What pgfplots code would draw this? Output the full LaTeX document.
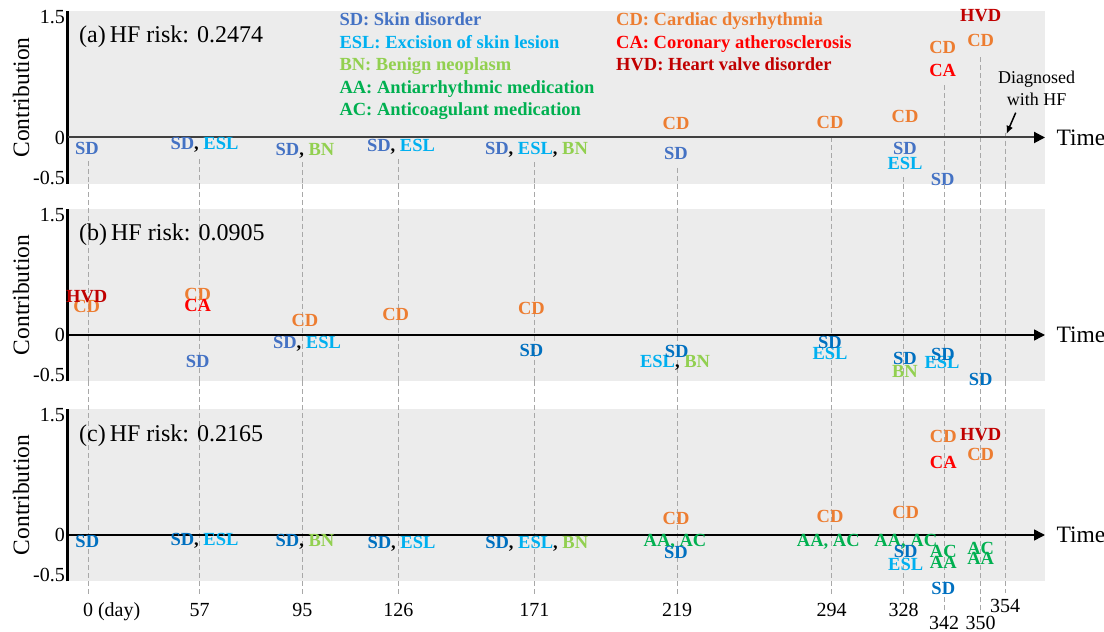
\documentclass[border=0pt]{standalone}
\usepackage{fontspec}
\setmainfont{Liberation Serif}
\usepackage{pgfplots}
\pgfplotsset{compat=1.18}
\usetikzlibrary{arrows.meta}

\definecolor{bg}{RGB}{236,236,236}
\definecolor{sda}{RGB}{68,114,196}
\definecolor{sdb}{RGB}{0,112,192}
\definecolor{esl}{RGB}{0,176,240}
\definecolor{bn}{RGB}{146,208,80}
\definecolor{aac}{RGB}{0,176,80}
\definecolor{cd}{RGB}{237,125,49}
\definecolor{ca}{RGB}{255,0,0}
\definecolor{hvd}{RGB}{192,0,0}
\definecolor{dashc}{RGB}{168,168,168}
\definecolor{darkline}{RGB}{64,64,64}

\newcommand\lbl{\fontsize{18.5}{20}\selectfont\bfseries}
\newcommand\tk{\fontsize{20}{22}\selectfont}
\newcommand\bigf{\fontsize{23.5}{25}\selectfont}
\protected\def\SDa{\textcolor{sda}{SD}}
\protected\def\SDb{\textcolor{sdb}{SD}}
\protected\def\ESL{\textcolor{esl}{ESL}}
\protected\def\BN{\textcolor{bn}{BN}}
\protected\def\LAA{\textcolor{aac}{AA}}
\protected\def\LAC{\textcolor{aac}{AC}}
\protected\def\LAAC{\textcolor{aac}{AA, AC}}
\protected\def\CD{\textcolor{cd}{CD}}
\protected\def\CA{\textcolor{ca}{CA}}
\protected\def\HVD{\textcolor{hvd}{HVD}}

\tikzset{dline/.style={draw=dashc, line width=0.9pt, dash pattern=on 5pt off 3pt}}
\pgfplotsset{
  panel/.style={
    x=1pt, y=80pt,
    xmin=68, xmax=1045, ymin=-0.58, ymax=1.58,
    axis background/.style={fill=bg, draw=none},
    axis y line*=left,
    axis x line*=bottom,
    x axis line style={draw=none},
    y axis line style={-, line width=3pt, draw=black},
    ytick={-0.5,0,1.5},
    yticklabels={-0.5,0,1.5},
    major tick length=0pt,
    ytick style={draw=none},
    xtick style={draw=none},
    yticklabel style={font=\tk, inner sep=3pt},
    xtick=\empty,
    clip=false,
    anchor=south west,
  },
  lblplot/.style={draw=none, mark=none, nodes near coords,
    point meta=explicit symbolic,
    every node near coord/.append style={anchor=base, yshift=-6pt, font=\lbl, text=black, inner sep=0pt}},
}

\begin{document}
\begin{tikzpicture}
\useasboundingbox (0,0) rectangle (1104pt,632pt);

% ---------------- panel (a)
\begin{axis}[panel, at={(68pt,448.1pt)}]
  \draw[dline] (axis cs:88,-0.30) -- (axis cs:88,-0.58);
  \draw[dline] (axis cs:199.7,-0.27) -- (axis cs:199.7,-0.58);
  \draw[dline] (axis cs:302.3,-0.31) -- (axis cs:302.3,-0.58);
  \draw[dline] (axis cs:398.3,-0.27) -- (axis cs:398.3,-0.58);
  \draw[dline] (axis cs:534.3,-0.31) -- (axis cs:534.3,-0.58);
  \draw[dline] (axis cs:677,-0.38) -- (axis cs:677,-0.58);
  \draw[dline] (axis cs:831.5,0) -- (axis cs:831.5,-0.58);
  \draw[dline] (axis cs:903.5,-0.50) -- (axis cs:903.5,-0.58);
  \draw[dline] (axis cs:944,0.65) -- (axis cs:944,-0.58);
  \draw[dline] (axis cs:980.7,1.0) -- (axis cs:980.7,-0.58);
  \draw[dline] (axis cs:1005,0.06) -- (axis cs:1005,-0.58);
  \draw[draw=darkline, line width=2pt, -{Triangle[length=11pt,width=11pt,black]}] (axis cs:68,0) -- (axis cs:1045,0);
  \addplot[lblplot] coordinates {
    (87,-0.135) [\SDa]
    (204.5,-0.08) [{\SDa, \ESL}]
    (305,-0.145) [{\SDa, \BN}]
    (401,-0.095) [{\SDa, \ESL}]
    (536.5,-0.135) [{\SDa, \ESL, \BN}]
    (676,0.17) [\CD]
    (676,-0.20) [\SDa]
    (830,0.19) [\CD]
    (905,0.26) [\CD]
    (905,-0.135) [\SDa]
    (905,-0.32) [\ESL]
    (942.7,1.12) [\CD]
    (942.7,0.84) [\CA]
    (942.7,-0.52) [\SDa]
    (980.7,1.52) [\HVD]
    (980.7,1.21) [\CD]
  };
  \node[rotate=90, font=\bigf] at (axis cs:21,0.5) {Contribution};
  \node[anchor=west, font=\bigf] at (axis cs:1053,0) {Time};
  \node[anchor=base west, font=\fontsize{24}{25}\selectfont, inner sep=0pt] at (axis cs:79,1.19) {(a)\,HF risk: 0.2474};
  \node[anchor=base west, font=\lbl, text=sda, inner sep=0pt] at (axis cs:339.3,1.394) {SD: Skin disorder};
  \node[anchor=base west, font=\lbl, text=esl, inner sep=0pt] at (axis cs:339.3,1.115) {ESL: Excision of skin lesion};
  \node[anchor=base west, font=\lbl, text=bn, inner sep=0pt] at (axis cs:339.3,0.84) {BN: Benign neoplasm};
  \node[anchor=base west, font=\lbl, text=aac, inner sep=0pt] at (axis cs:339.3,0.5525) {AA: Antiarrhythmic medication};
  \node[anchor=base west, font=\lbl, text=aac, inner sep=0pt] at (axis cs:339.3,0.269) {AC: Anticoagulant medication};
  \node[anchor=base west, font=\lbl, text=cd, inner sep=0pt] at (axis cs:616,1.394) {CD: Cardiac dysrhythmia};
  \node[anchor=base west, font=\lbl, text=ca, inner sep=0pt] at (axis cs:616,1.115) {CA: Coronary atherosclerosis};
  \node[anchor=base west, font=\lbl, text=hvd, inner sep=0pt] at (axis cs:616,0.84) {HVD: Heart valve disorder};
  \node[align=center, font=\fontsize{18}{22}\selectfont, inner sep=0pt] at (axis cs:1036.7,0.62) {Diagnosed\\with HF};
  \draw[line width=1.5pt, -{Latex[length=8pt,width=7pt]}] (axis cs:1015.7,0.31) -- (axis cs:1006.5,0.045);
\end{axis}

% ---------------- panel (b)
\begin{axis}[panel, at={(68pt,250.6pt)}]
  \pgfplotsinvokeforeach{88,199.7,302.3,398.3,534.3,677,831.5,903.5,944,980.7,1005}{
    \draw[dline] (axis cs:#1,1.889) -- (axis cs:#1,-0.58);
  }
  \draw[draw=black, line width=1.5pt, -{Triangle[length=11pt,width=11pt,black]}] (axis cs:68,0) -- (axis cs:1045,0);
  \addplot[lblplot] coordinates {
    (86.7,0.35) [\CD]
    (86.7,0.48) [\HVD]
    (197.7,0.51) [\CD]
    (197.7,0.37) [\CA]
    (197.7,-0.33) [\SDa]
    (305,0.18) [\CD]
    (307,-0.10) [{\SDa, \ESL}]
    (395.7,0.25) [\CD]
    (531.4,0.33) [\CD]
    (531.4,-0.20) [\SDb]
    (675,-0.33) [{\ESL, \BN}]
    (676.7,-0.21) [\SDb]
    (830,-0.23) [\ESL]
    (830,-0.10) [\SDb]
    (905,-0.46) [\BN]
    (905,-0.29) [\SDb]
    (942,-0.35) [\ESL]
    (943,-0.24) [\SDb]
    (980.6,-0.56) [\SDb]
  };
  \node[rotate=90, font=\bigf] at (axis cs:21,0.5) {Contribution};
  \node[anchor=west, font=\bigf] at (axis cs:1053,0) {Time};
  \node[anchor=base west, font=\fontsize{24}{25}\selectfont, inner sep=0pt] at (axis cs:79,1.185) {(b)\,HF risk: 0.0905};
\end{axis}

% ---------------- panel (c)
\begin{axis}[panel, at={(68pt,50.6pt)},
  xtick={88,199.7,302.3,398.3,534.3,677,831.5,903.5,944,980.7,1005},
  xticklabels={{\makebox[0pt][l]{\kern-5pt 0 (day)}},57,95,126,171,219,294,328,{\raisebox{-13pt}{342}},{\raisebox{-13pt}{350}},{\raisebox{4pt}{354}}},
  xticklabel style={anchor=base, yshift=-35pt, font=\tk},
]
  \pgfplotsinvokeforeach{88,199.7,302.3,398.3,534.3,677,831.5,903.5}{
    \draw[dline] (axis cs:#1,1.92) -- (axis cs:#1,-0.775);
  }
  \pgfplotsinvokeforeach{944,980.7}{
    \draw[dline] (axis cs:#1,1.92) -- (axis cs:#1,-0.96);
  }
  \draw[dline] (axis cs:1005,1.92) -- (axis cs:1005,-0.725);
  \draw[draw=black, line width=1.5pt, -{Triangle[length=11pt,width=11pt,black]}] (axis cs:68,0) -- (axis cs:1045,0);
  \addplot[lblplot] coordinates {
    (87.3,-0.08) [\SDb]
    (204.5,-0.06) [{\SDb, \ESL}]
    (305,-0.07) [{\SDb, \BN}]
    (401.5,-0.10) [{\SDb, \ESL}]
    (536.7,-0.10) [{\SDb, \ESL, \BN}]
    (676,0.21) [\CD]
    (675,-0.075) [\LAAC]
    (676,-0.22) [\SDb]
    (830,0.23) [\CD]
    (828.3,-0.07) [\LAAC]
    (905.7,0.28) [\CD]
    (905.8,-0.07) [\LAAC]
    (905.7,-0.21) [\SDb]
    (905.7,-0.375) [\ESL]
    (943.3,1.23) [\CD]
    (943.3,0.90) [\CA]
    (943.3,-0.21) [\LAC]
    (943.3,-0.35) [\LAA]
    (943.3,-0.67) [\SDb]
    (980.7,1.25) [\HVD]
    (980.7,1.01) [\CD]
    (980.7,-0.17) [\LAC]
    (980.7,-0.29) [\LAA]
  };
  \node[rotate=90, font=\bigf] at (axis cs:21,0.5) {Contribution};
  \node[anchor=west, font=\bigf] at (axis cs:1053,0) {Time};
  \node[anchor=base west, font=\fontsize{24}{25}\selectfont, inner sep=0pt] at (axis cs:79,1.17) {(c)\,HF risk: 0.2165};
\end{axis}
\end{tikzpicture}
\end{document}
